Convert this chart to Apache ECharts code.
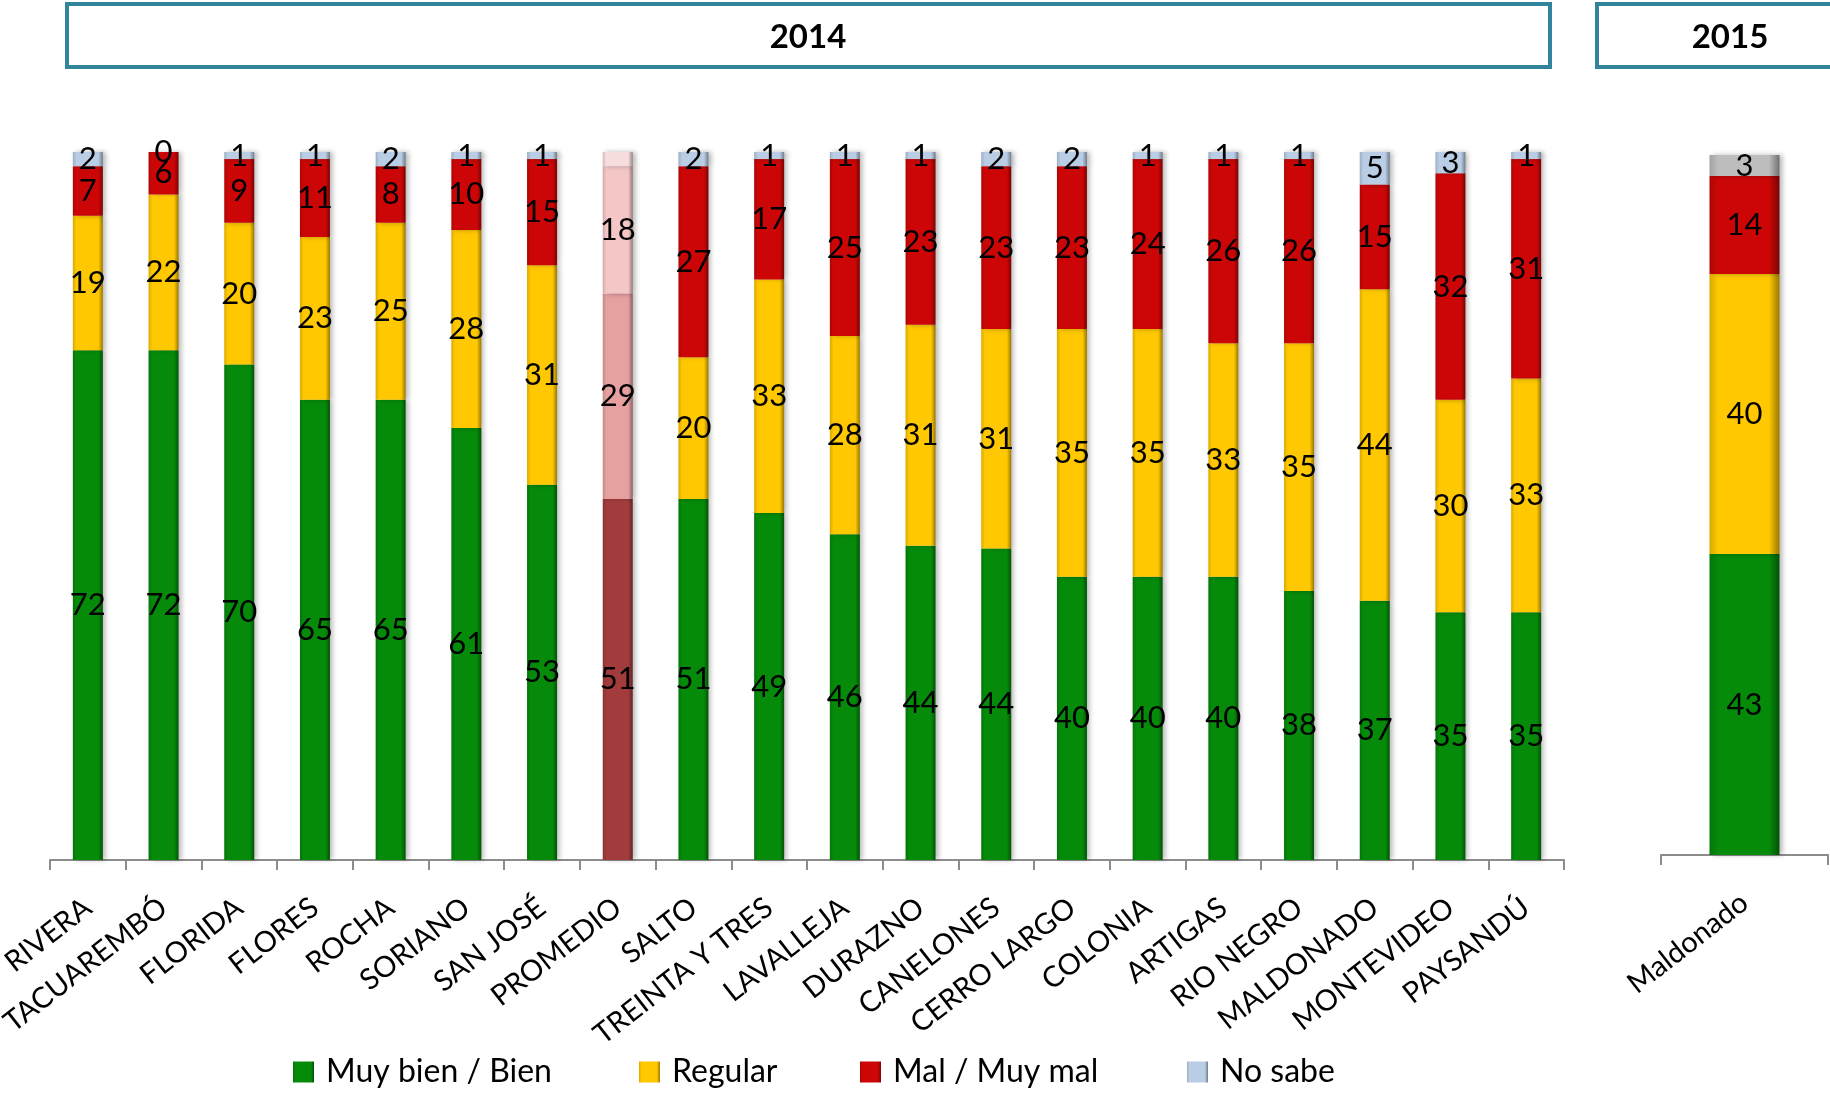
<!DOCTYPE html>
<html>
<head>
<meta charset="utf-8">
<script src="https://cdn.jsdelivr.net/npm/echarts@6/dist/echarts.min.js"></script>
<style>
html,body{margin:0;padding:0;background:#fff;}
#chart{width:1830px;height:1095px;}
</style>
</head>
<body>
<div id="chart"></div>
<script>
// ---- data (percentages; labels shown rounded) ----
const categories2014 = ['RIVERA','TACUAREMBÓ','FLORIDA','FLORES','ROCHA','SORIANO','SAN JOSÉ','PROMEDIO','SALTO','TREINTA Y TRES','LAVALLEJA','DURAZNO','CANELONES','CERRO LARGO','COLONIA','ARTIGAS','RIO NEGRO','MALDONADO','MONTEVIDEO','PAYSANDÚ'];
const muyBien2014 = [72,72,70,65,65,61,53,51,51,49,46,44.4,44,40,40,40,38,36.6,35,35];
const regular2014 = [19,22,20,23,25,28,31,29,20,33,28,31.2,31,35,35,33,35,44.0,30,33];
const mal2014     = [7,6,9,11,8,10,15,18,27,17,25,23.4,23,23,24,26,26,14.8,32,31];
const noSabe2014  = [2,0,1,1,2,1,1,2,2,1,1,1.0,2,2,1,1,1,4.6,3,1];
const categories2015 = ['Maldonado'];
const muyBien2015 = [43];
const regular2015 = [40];
const mal2015     = [14];
const noSabe2015  = [3];
const headers = ['2014','2015'];
const seriesNames = ['Muy bien / Bien','Regular','Mal / Muy mal','No sabe'];
const promedioLabel = 'PROMEDIO';

// ---- styles ----
const FONT = 'Lato, "Open Sans", sans-serif';
function hexToRgb(h){h=h.replace('#','');return [parseInt(h.substr(0,2),16),parseInt(h.substr(2,2),16),parseInt(h.substr(4,2),16)];}
function shade(h,f){const c=hexToRgb(h);return 'rgb('+c.map(v=>Math.round(Math.max(0,Math.min(255,v*f)))).join(',')+')';}
function bevel(h){
  return new echarts.graphic.LinearGradient(0,0,1,0,[
    {offset:0,color:shade(h,0.85)},
    {offset:0.12,color:h},
    {offset:0.85,color:h},
    {offset:1,color:shade(h,0.6)}
  ]);
}
const baseColors = ['#058A0A','#FFC800','#CC0606','#B9CDE5'];
const promedioColors = ['#A23C3C','#E6A0A0','#F4C6C6','#F7DDDD'];
const noSabe2015Color = '#BDBDBD';

const promIdx = categories2014.indexOf(promedioLabel);
const vals2014 = [muyBien2014, regular2014, mal2014, noSabe2014];
const vals2015 = [muyBien2015, regular2015, mal2015, noSabe2015];

const labelStyle = {show:true, position:'inside', color:'#000', fontSize:31, fontFamily:FONT,
  formatter:p=>String(Math.round(p.value))};
const itemShadow = {shadowColor:'rgba(0,0,0,0.28)', shadowBlur:5, shadowOffsetX:3};

const series = [];
seriesNames.forEach((name,si)=>{
  series.push({
    name:name, type:'bar', stack:'a', xAxisIndex:0, yAxisIndex:0,
    barWidth:30,
    itemStyle:Object.assign({color:bevel(baseColors[si])}, itemShadow),
    label:labelStyle,
    data: vals2014[si].map((v,i)=>{
      if(i===promIdx){
        const o={value:v,itemStyle:{color:bevel(promedioColors[si])}};
        if(si===3) o.label={show:false};
        return o;
      }
      return v;
    })
  });
  series.push({
    name:name, type:'bar', stack:'b', xAxisIndex:1, yAxisIndex:1,
    barWidth:70,
    itemStyle:Object.assign({color: si===3 ? bevel(noSabe2015Color) : bevel(baseColors[si])}, itemShadow),
    label:labelStyle,
    data: vals2015[si].slice()
  });
});

const axisCommon = {
  type:'category',
  axisLine:{show:true,lineStyle:{color:'#8C8C8C',width:2}},
  axisTick:{show:true,length:10,lineStyle:{color:'#8C8C8C',width:2}},
  axisLabel:{rotate:38,margin:44,color:'#000',fontSize:29,fontFamily:FONT,interval:0}
};

const legendLefts = [288,634,855,1182];
const legends = seriesNames.map((n,i)=>({
  data:[n], left:legendLefts[i], top:1051, itemWidth:21, itemHeight:21, icon:'rect',
  textStyle:{fontSize:32,fontFamily:FONT,color:'#000',padding:[0,0,0,7]},
  selectedMode:false
}));

const chart = echarts.init(document.getElementById('chart'),null,{renderer:'canvas'});
chart.setOption({
  backgroundColor:'#fff',
  animation:false,
  grid:[
    {left:50, top:152, width:1514, height:708, containLabel:false, outerBoundsMode:'none'},
    {left:1661, top:155, width:167, height:700, containLabel:false, outerBoundsMode:'none'}
  ],
  xAxis:[
    Object.assign({gridIndex:0,data:categories2014}, axisCommon),
    Object.assign({gridIndex:1,data:categories2015}, axisCommon)
  ],
  yAxis:[
    {gridIndex:0,type:'value',min:0,max:100,show:false},
    {gridIndex:1,type:'value',min:0,max:100,show:false}
  ],
  legend:legends,
  graphic:[
    {type:'rect',shape:{x:67,y:4,width:1483,height:63},style:{fill:'#fff',stroke:'#31849B',lineWidth:4}},
    {type:'text',x:808,y:37,style:{text:headers[0],font:'bold 33px '+FONT,fill:'#000',align:'center',verticalAlign:'middle'}},
    {type:'rect',shape:{x:1597,y:4,width:300,height:63},style:{fill:'#fff',stroke:'#31849B',lineWidth:4}},
    {type:'text',x:1730,y:37,style:{text:headers[1],font:'bold 33px '+FONT,fill:'#000',align:'center',verticalAlign:'middle'}}
  ],
  series:series
});
</script>
</body>
</html>
